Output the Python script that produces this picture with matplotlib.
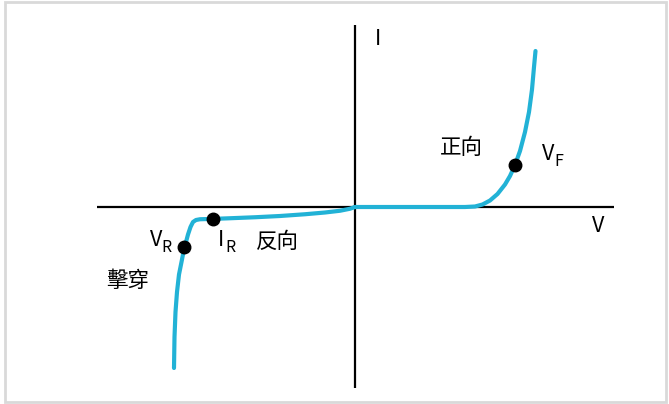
import matplotlib
matplotlib.use("Agg")
import matplotlib.pyplot as plt
from matplotlib.patches import Rectangle

plt.rcParams['font.family'] = ['Noto Sans CJK TC', 'DejaVu Sans']

# Forward branch (V, I) in arbitrary units
fwd_v = [0.0, 1.0, 2.2, 2.4, 2.55, 2.7, 2.85, 3.0, 3.1, 3.2, 3.3, 3.4, 3.48, 3.54, 3.58, 3.61]
fwd_i = [0.0, 0.0, 0.0, 0.01, 0.05, 0.13, 0.26, 0.45, 0.62, 0.84, 1.12, 1.50, 1.90, 2.35, 2.80, 3.12]

# Reverse branch
rev_v = [0.0, -0.1, -0.3, -0.6, -1.0, -1.5, -2.0, -2.5, -2.84, -3.1, -3.18, -3.24, -3.29,
         -3.34, -3.38, -3.41, -3.46, -3.52, -3.56, -3.59, -3.61, -3.62]
rev_i = [0.0, -0.035, -0.075, -0.11, -0.145, -0.18, -0.205, -0.225, -0.238, -0.245, -0.26,
         -0.3, -0.4, -0.55, -0.7, -0.79, -1.05, -1.35, -1.7, -2.1, -2.6, -3.22]

# Marked points
pt_names = ["VF", "IR", "VR"]
pt_v = [3.2, -2.84, -3.41]
pt_i = [0.84, -0.238, -0.79]

# Axis extents
v_axis = [-5.16, 5.17]
i_axis = [-3.62, 3.64]

curve_color = "#22B2D6"

fig = plt.figure(figsize=(6.69, 4.04), dpi=100)
ax = fig.add_axes([0, 0, 1, 1])
ax.set_xlim(-7.1, 6.28)
ax.set_ylim(-3.94, 4.14)
ax.axis("off")

fig.patches.append(Rectangle((5 / 669, 2 / 404), 661 / 669, 400 / 404, transform=fig.transFigure,
                             fill=False, edgecolor="#D9D9D9", linewidth=2))

ax.plot(v_axis, [0, 0], color="black", lw=1.6, solid_capstyle="butt", zorder=1)
ax.plot([0, 0], i_axis, color="black", lw=1.6, solid_capstyle="butt", zorder=1)

ax.plot(fwd_v, fwd_i, color=curve_color, lw=3, solid_capstyle="round", solid_joinstyle="round", zorder=2)
ax.plot(rev_v, rev_i, color=curve_color, lw=3, solid_capstyle="round", solid_joinstyle="round", zorder=2)
ax.plot(pt_v, pt_i, "o", color="black", ms=9, zorder=3)

fs = 15.5
sub = 11.5
def px(x, y):
    return ((x - 355) / 50, (207 - y) / 50)

ax.text(*px(378, 39), "I", fontsize=fs, ha="center", va="center")
ax.text(*px(598, 226), "V", fontsize=fs, ha="center", va="center")
ax.text(*px(461, 148), "正向", fontsize=fs, ha="center", va="center")
ax.text(*px(277, 242), "反向", fontsize=fs, ha="center", va="center")
ax.text(*px(128, 281), "擊穿", fontsize=fs, ha="center", va="center")

ax.text(*px(548, 154), "V", fontsize=fs, ha="center", va="center")
ax.text(*px(554, 162), "F", fontsize=sub, ha="left", va="center")
ax.text(*px(156, 240), "V", fontsize=fs, ha="center", va="center")
ax.text(*px(161, 248), "R", fontsize=sub, ha="left", va="center")
ax.text(*px(221, 240), "I", fontsize=fs, ha="center", va="center")
ax.text(*px(225, 248), "R", fontsize=sub, ha="left", va="center")

fig.savefig("out.png", dpi=100)
